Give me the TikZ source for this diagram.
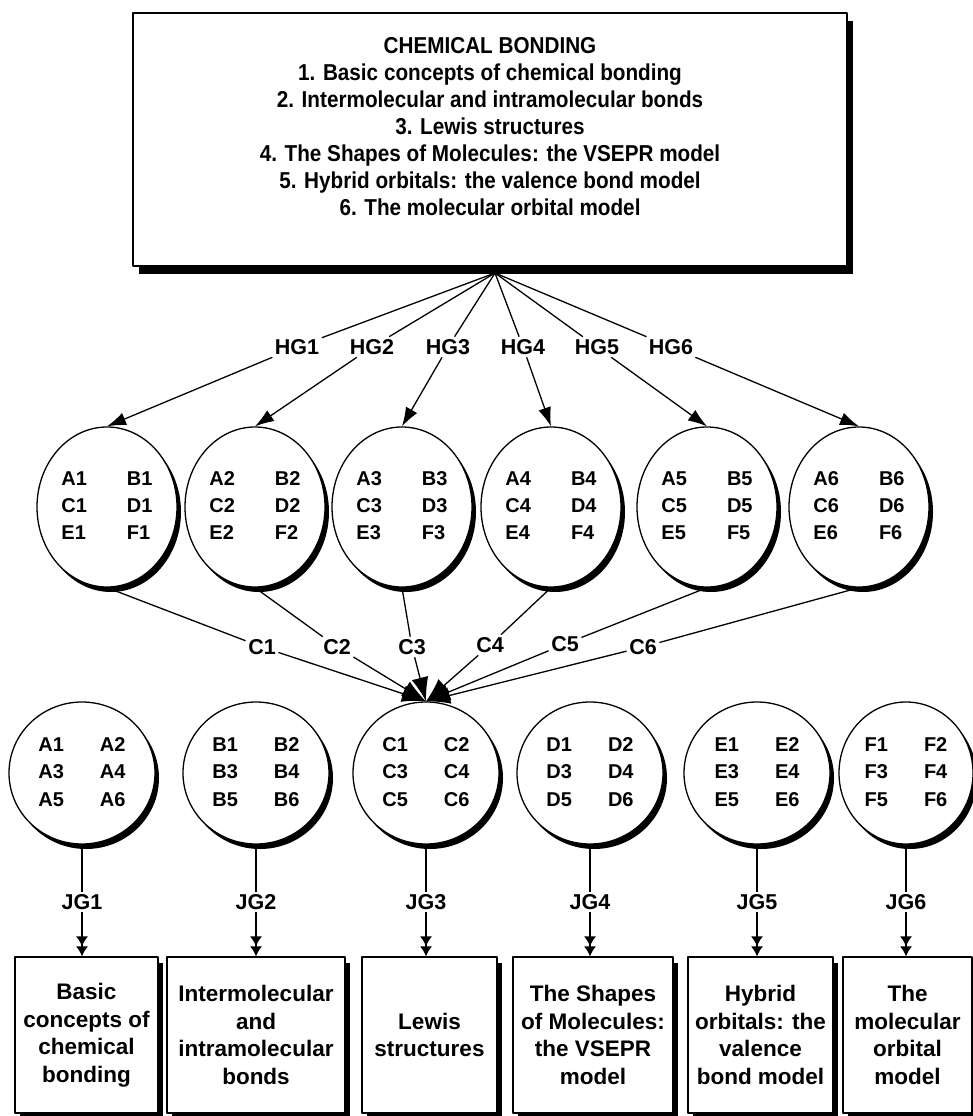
\documentclass[tikz,border=0pt]{standalone}
\usepackage{fontspec}
\setmainfont{Liberation Sans}
\newfontfamily\narrowfont[FakeStretch=0.9]{Liberation Sans}
\usetikzlibrary{arrows.meta, shapes, shadows}
\tikzset{groupnode/.style={ellipse, draw=black, fill=white, line width=1.3pt, inner sep=0pt, drop shadow={shadow xshift=4pt, shadow yshift=-5pt, opacity=1, fill=black}},unitnode/.style={rectangle, draw=black, fill=white, line width=1.3pt, inner sep=0pt, minimum height=156pt, align=center, font=\fontsize{22.5}{27.5}\selectfont\bfseries, drop shadow={shadow xshift=5pt, shadow yshift=-6pt, opacity=1, fill=black}}}
\newcommand{\hgcells}[6]{{\fontsize{20}{27}\selectfont\bfseries\begin{tabular}{@{}l@{\hspace{40pt}}l@{}}#1&#2\\#3&#4\\#5&#6\end{tabular}}}
\newcommand{\jgcells}[6]{{\fontsize{20}{27.5}\selectfont\bfseries\begin{tabular}{@{}l@{\hspace{36pt}}l@{}}#1&#2\\#3&#4\\#5&#6\end{tabular}}}

\begin{document}
\begin{tikzpicture}[
        x=1pt, y=-1pt,
        line join=bevel,
        tag/.style={font=\fontsize{21.5}{24}\selectfont\bfseries, inner sep=2.5pt},
        link/.style={line width=1.3pt},
        hgarrow/.style={-{Latex[length=19pt, width=13pt]}, line width=1.3pt},
        carrow/.style={-{Latex[length=24pt, width=17pt]}, line width=1.3pt},
        jgarrow/.style={-{Latex[length=10pt, width=12pt]Latex[length=10pt, width=12pt]}, line width=1.3pt}
    ]
        \useasboundingbox (0,0) rectangle (973,1116);
        % Topic box
        \node[draw=black, fill=white, line width=1.3pt, minimum width=714pt, minimum height=253pt, drop shadow={shadow xshift=6pt, shadow yshift=-8pt, opacity=1, fill=black}] (topic) at (490,139.5) {};
        \node[font=\narrowfont\fontsize{23}{27}\selectfont\bfseries, align=center] (topictext) at (490,126.5) {CHEMICAL BONDING\\
            1. Basic concepts of chemical bonding\\
            2. Intermolecular and intramolecular bonds\\
            3. Lewis structures\\
            4. The Shapes of Molecules: the VSEPR model\\
            5. Hybrid orbitals: the valence bond model\\
            6. The molecular orbital model};
        \coordinate (fan) at (495,273);
        % Horizontal groups
        \foreach \i/\x/\hx in {
            1/107/297,
            2/255/372,
            3/402/448,
            4/551/523,
            5/707/597,
            6/859/671} {
            \node[groupnode, minimum width=140pt, minimum height=160pt] (grp\i) at (\x,507) {\hgcells{A\i}{B\i}{C\i}{D\i}{E\i}{F\i}};
            \node[tag] (hg\i) at (\hx,347) {HG\i};
            \draw[link] (fan) -- (hg\i);
            \draw[hgarrow] (hg\i) -- (grp\i.north);
        }
        % Joint groups and units
        \foreach \i/\L/\x/\sw/\ux/\uw/\utext in {
            1/A/82/146/86.5/143/{Basic\\concepts of\\chemical\\bonding},
            2/B/256/146/256/178/{Intermolecular\\and\\intramolecular\\bonds},
            3/C/426/146/429.5/135/{Lewis\\structures},
            4/D/590/146/593/160/{The Shapes\\of Molecules:\\the VSEPR\\model},
            5/E/757/146/760.5/145/{Hybrid\\orbitals: the\\valence\\bond model},
            6/F/906/134/907.5/129/{The\\molecular\\orbital\\model}} {
            \node[groupnode, minimum width=\sw, minimum height=142pt] (set\L) at (\x,773) {\jgcells{\L1}{\L2}{\L3}{\L4}{\L5}{\L6}};
            \node[unitnode, minimum width=\uw] (unit\i) at (\ux,1035) {\utext};
            \node[tag] (jg\i) at (\x,902) {JG\i};
            \draw[link] (set\L.south) -- (jg\i);
            \draw[jgarrow] (jg\i) -- (jg\i |- unit\i.north);
        }
        % Links into C
        \foreach \i/\cx/\cy in {
            1/262/647,
            2/337/647,
            3/412/647,
            4/490/645,
            5/565/644,
            6/643/647} {
            \node[tag] (c\i) at (\cx,\cy) {C\i};
            \draw[link] (grp\i.south) -- (c\i);
            \draw[carrow] (c\i) -- (setC.north);
        }
    \end{tikzpicture}
\end{document}
